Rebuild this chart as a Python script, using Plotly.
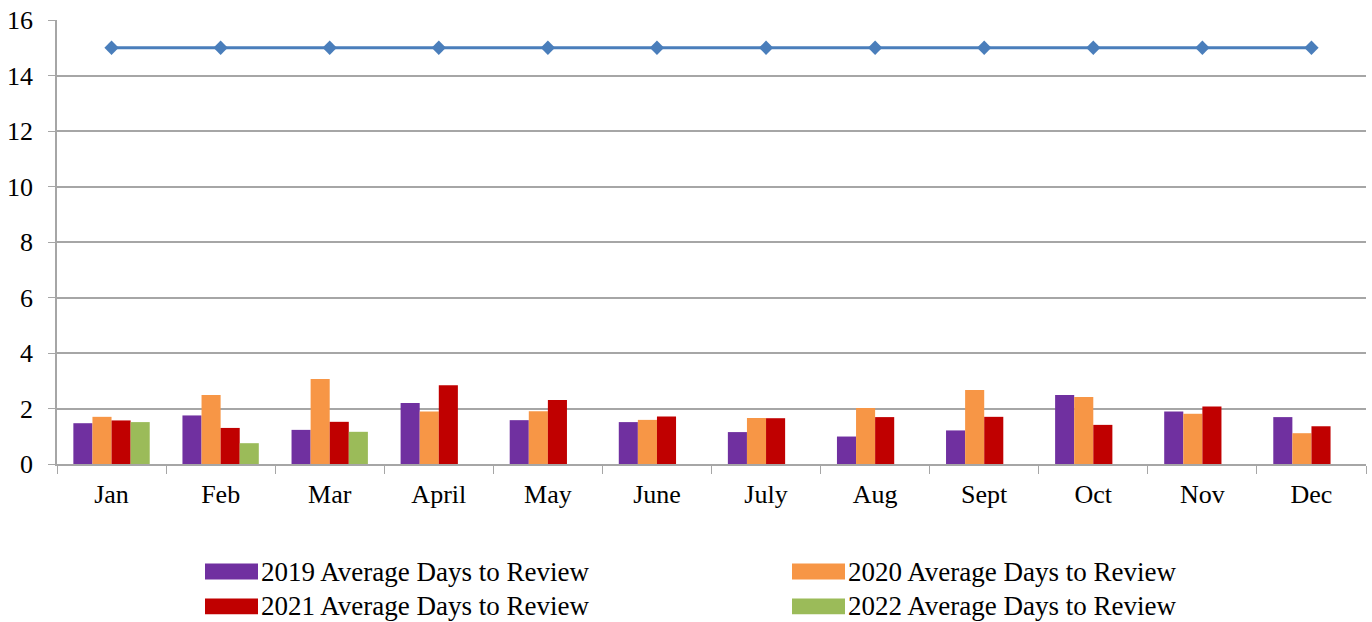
import plotly.graph_objects as go

months = ["Jan", "Feb", "Mar", "April", "May", "June", "July", "Aug", "Sept", "Oct", "Nov", "Dec"]
names = ["2019 Average Days to Review", "2020 Average Days to Review",
         "2021 Average Days to Review", "2022 Average Days to Review"]
v2019 = [1.47, 1.75, 1.23, 2.20, 1.58, 1.51, 1.15, 0.99, 1.21, 2.49, 1.89, 1.69]
v2020 = [1.70, 2.49, 3.06, 1.89, 1.90, 1.59, 1.66, 2.02, 2.67, 2.41, 1.81, 1.11]
v2021 = [1.57, 1.30, 1.52, 2.84, 2.31, 1.71, 1.65, 1.69, 1.70, 1.41, 2.07, 1.36]
v2022 = [1.51, 0.75, 1.16, None, None, None, None, None, None, None, None, None]
target = [15] * 12
colors = ["#7030a0", "#f79646", "#c00000", "#9bbb59"]

W, H = 1372, 622
ml, mr, mt, mb = 57, 6, 18, 158

fig = go.Figure()
for name, vals, c in zip(names, [v2019, v2020, v2021, v2022], colors):
    fig.add_trace(go.Bar(x=months, y=vals, name=name, marker=dict(color=c, line=dict(width=0)),
                         showlegend=False))
fig.add_trace(go.Scatter(x=months, y=target, mode="lines+markers", name="Target",
                         line=dict(color="#4a7ebb", width=3),
                         marker=dict(symbol="diamond", size=11, color="#4a7ebb"),
                         showlegend=False))

# custom legend (Excel-style wide swatches)
pw = W - ml - mr
ph = H - mt - mb
def px_x(x):
    return (x - ml) / pw
def px_y(y):
    return (H - mb - y) / ph

shapes = []
annotations = []
pos = [(205, 572), (792, 572), (205, 607), (792, 607)]
for (x0, yc), name, c in zip(pos, names, colors):
    shapes.append(dict(type="rect", xref="paper", yref="paper",
                       x0=px_x(x0), x1=px_x(x0 + 53), y0=px_y(yc + 8), y1=px_y(yc - 8),
                       fillcolor=c, line=dict(width=0)))
    annotations.append(dict(xref="paper", yref="paper", x=px_x(x0 + 54), y=px_y(yc),
                            xanchor="left", yanchor="middle", text=name, showarrow=False,
                            font=dict(family="Liberation Serif", size=27, color="#000")))

fig.update_layout(
    width=W, height=H,
    margin=dict(l=ml, r=mr, t=mt, b=mb),
    barmode="group", bargap=0.3, bargroupgap=0,
    plot_bgcolor="white", paper_bgcolor="white",
    font=dict(family="Liberation Serif", size=26, color="#000"),
    shapes=shapes, annotations=annotations,
    xaxis=dict(type="category", range=[-0.5, 11.5], tickson="boundaries", ticks="outside",
               ticklen=8, tickcolor="#a6a6a6", showline=True, linecolor="#a6a6a6",
               linewidth=1.5, showgrid=False, tickfont=dict(size=26), ticklabelstandoff=6),
    yaxis=dict(range=[0, 16], dtick=2, ticks="outside", ticklen=7, tickcolor="#a6a6a6",
               showline=True, linecolor="#a6a6a6", linewidth=1.5, showgrid=True,
               gridcolor="#a6a6a6", gridwidth=1.5, zeroline=False, tickfont=dict(size=26),
               ticklabelstandoff=10),
)

fig.write_html("out.html", config={"displayModeBar": False},
               post_script="document.body.style.margin='0';document.body.style.overflow='hidden';")
